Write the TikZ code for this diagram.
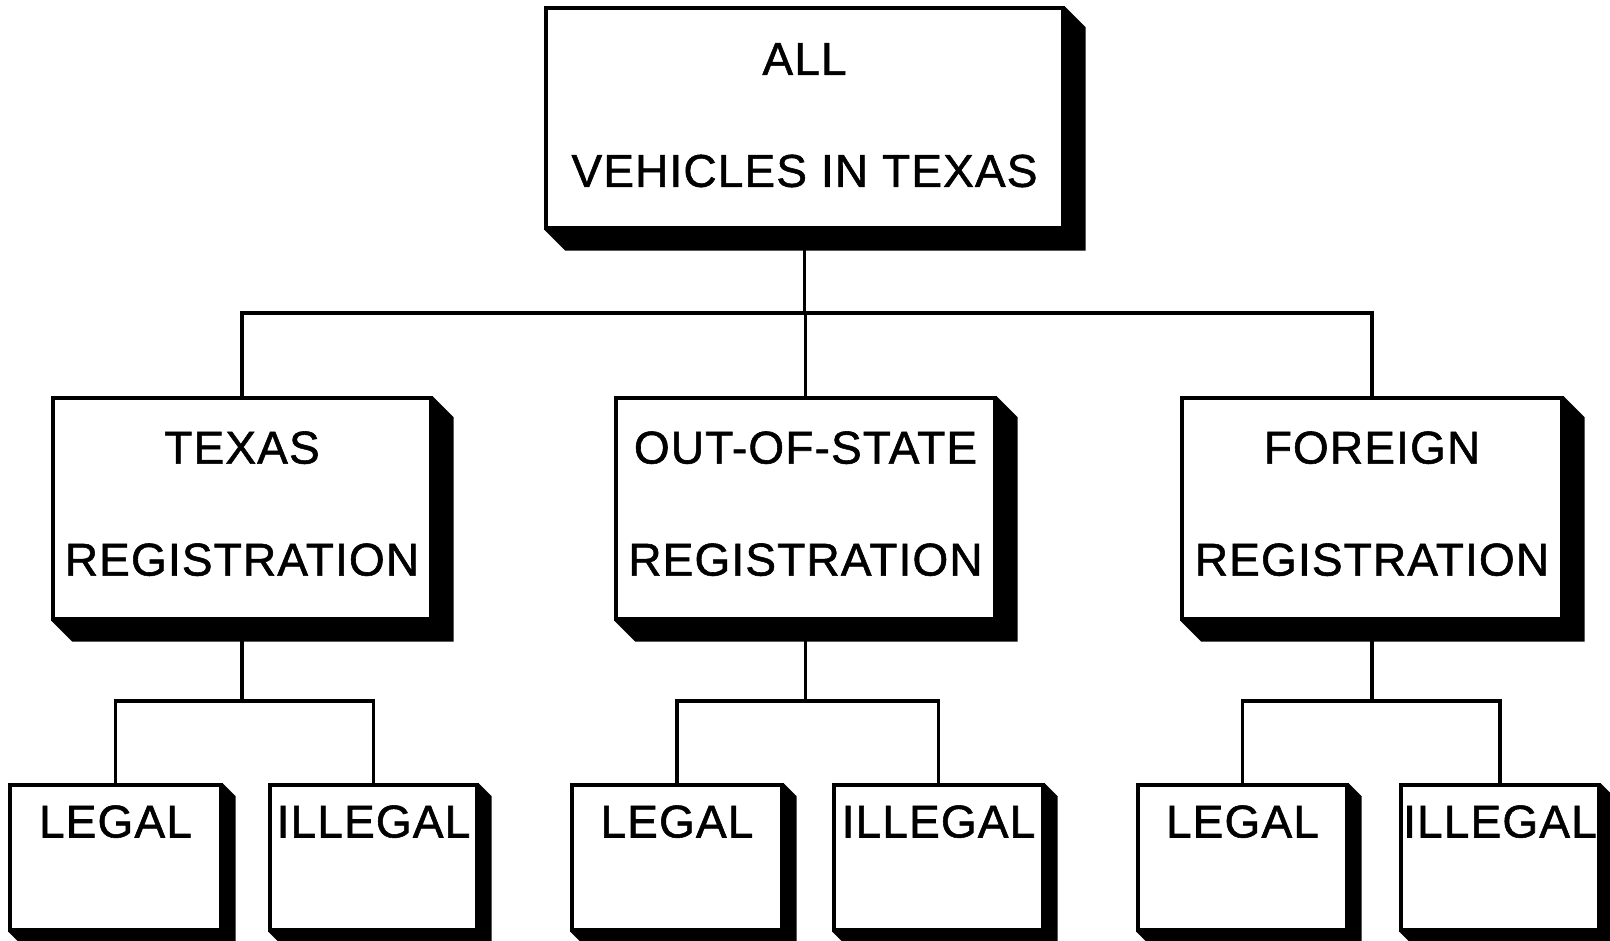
\documentclass[tikz,border=0pt]{standalone}
\usepackage{fontspec}
\setmainfont[LetterSpace=2.5,FakeBold=1.2]{Liberation Sans}
\usetikzlibrary{calc}
\newcommand\extrude[2]{\fill (#1.north east) -- ++(#2,#2) -- ($(#1.south east)+(#2,#2)$) -- ($(#1.south west)+(#2,#2)$) -- (#1.south west) -- (#1.south east) -- cycle;}
\newcommand\lift[1]{\rule[-#1pt]{0pt}{#1pt}}
\begin{document}
\begin{tikzpicture}[x=1pt,y=-1pt,
  box/.style={draw,line width=3.4pt,fill=white,rectangle,inner sep=0pt,align=center,font=\fontsize{46}{112}\selectfont},
  leaf/.style={box,minimum height=145,text height=34,text depth=74},
  link/.style={line width=3.2pt},
]
\useasboundingbox[fill=white] (0,0) rectangle (1610,941);
\node[box,minimum width=517,minimum height=220] (all) at (804.5,118) {ALL\\VEHICLES IN TEXAS\lift{6}};
\node[box,minimum width=378,minimum height=221] (tx) at (242,508.5) {TEXAS\\REGISTRATION\lift{10}};
\node[box,minimum width=379,minimum height=221] (oos) at (805.5,508.5) {OUT-OF-STATE\\REGISTRATION\lift{10}};
\node[box,minimum width=380,minimum height=221] (fr) at (1372,508.5) {FOREIGN\\REGISTRATION\lift{10}};
\node[leaf,minimum width=211] (l1) at (115.5,857.5) {LEGAL};
\node[leaf,minimum width=207] (i1) at (373.5,857.5) {ILLEGAL};
\node[leaf,minimum width=210] (l2) at (677,857.5) {LEGAL};
\node[leaf,minimum width=209] (i2) at (938.5,857.5) {ILLEGAL};
\node[leaf,minimum width=209] (l3) at (1242.5,857.5) {LEGAL};
\node[leaf,minimum width=198] (i3) at (1500,857.5) {ILLEGAL};
\extrude{all}{21}
\extrude{tx}{21}
\extrude{oos}{21}
\extrude{fr}{21}
\foreach \n in {l1,i1,l2,i2,l3,i3} {\extrude{\n}{13}}
\coordinate (h) at (804,313);
\coordinate (ht) at (0,701);
\draw[link] (all.south) -- (all.south |- h);
\draw[link] (tx.north) -- (tx.north |- h) -| (fr.north);
\draw[link] (oos.north) -- (oos.north |- h);
\draw[link] (tx.south) -- (tx.south |- ht);
\draw[link] (l1.north) |- (i1.north |- ht) -- (i1.north);
\draw[link] (oos.south) -- (oos.south |- ht);
\draw[link] (l2.north) |- (i2.north |- ht) -- (i2.north);
\draw[link] (fr.south) -- (fr.south |- ht);
\draw[link] (l3.north) |- (i3.north |- ht) -- (i3.north);
\end{tikzpicture}
\end{document}
